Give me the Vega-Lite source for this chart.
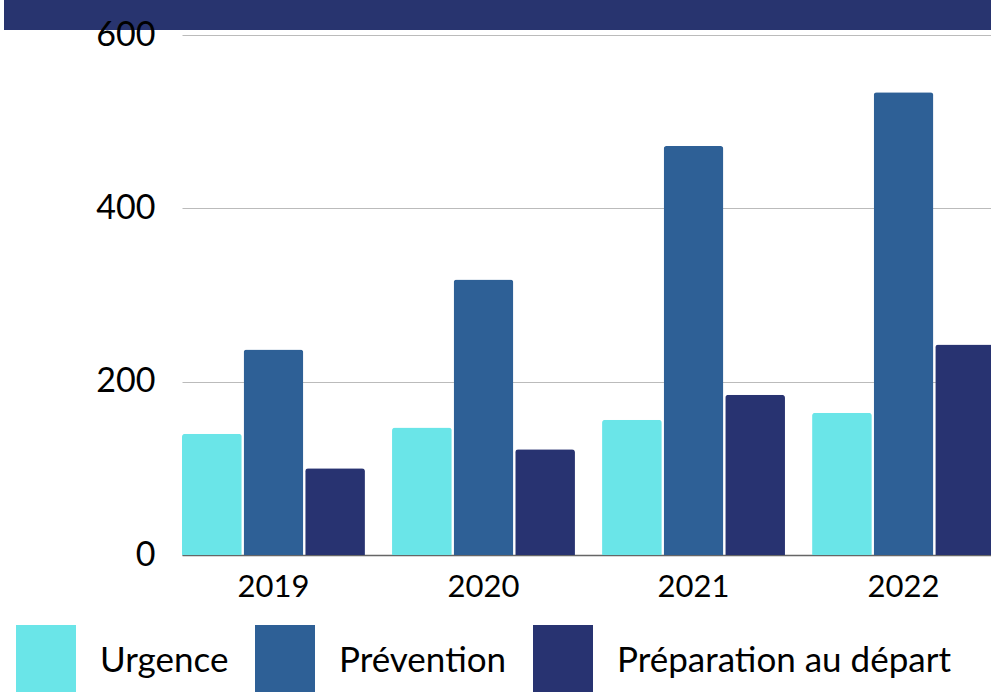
{
  "$schema": "https://vega.github.io/schema/vega-lite/v6.json",
  "width": 809,
  "height": 520,
  "autosize": {"type": "none"},
  "padding": {"left": 182, "top": 35, "right": 0, "bottom": 137},
  "background": "white",
  "config": {
    "font": "Lato",
    "view": {"stroke": null}
  },
  "data": {
    "values": [
      {"annee": "2019", "categorie": "Urgence", "valeur": 140},
      {"annee": "2019", "categorie": "Prévention", "valeur": 237},
      {"annee": "2019", "categorie": "Préparation au départ", "valeur": 100},
      {"annee": "2020", "categorie": "Urgence", "valeur": 147},
      {"annee": "2020", "categorie": "Prévention", "valeur": 318},
      {"annee": "2020", "categorie": "Préparation au départ", "valeur": 122},
      {"annee": "2021", "categorie": "Urgence", "valeur": 156},
      {"annee": "2021", "categorie": "Prévention", "valeur": 472},
      {"annee": "2021", "categorie": "Préparation au départ", "valeur": 185},
      {"annee": "2022", "categorie": "Urgence", "valeur": 164},
      {"annee": "2022", "categorie": "Prévention", "valeur": 534},
      {"annee": "2022", "categorie": "Préparation au départ", "valeur": 243}
    ]
  },
  "resolve": {
    "scale": {"x": "independent", "y": "shared"},
    "axis": {"x": "independent", "y": "independent"}
  },
  "layer": [
    {
      "mark": {"type": "bar", "cornerRadiusTopLeft": 3, "cornerRadiusTopRight": 3},
      "encoding": {
        "x": {
          "field": "annee",
          "type": "nominal",
          "scale": {"range": [0, 813], "paddingInner": 0.129, "paddingOuter": 0},
          "axis": {
            "title": null,
            "labelAngle": 0,
            "labelFontSize": 31,
            "labelColor": "#000000",
            "labelPadding": 17,
            "ticks": false,
            "domainColor": "#666666",
            "domainWidth": 1.5,
            "grid": false
          }
        },
        "xOffset": {
          "field": "categorie",
          "type": "nominal",
          "sort": ["Urgence", "Prévention", "Préparation au départ"],
          "scale": {"paddingInner": 0.03, "paddingOuter": 0}
        },
        "y": {
          "field": "valeur",
          "type": "quantitative",
          "scale": {"domain": [0, 600], "nice": false},
          "axis": {
            "orient": "left",
            "title": null,
            "values": [0, 200, 400, 600],
            "labels": false,
            "ticks": false,
            "domain": false,
            "grid": true,
            "gridColor": "#bbbbbb",
            "gridWidth": 1.2,
            "zindex": 0
          }
        },
        "color": {
          "field": "categorie",
          "type": "nominal",
          "scale": {
            "domain": ["Urgence", "Prévention", "Préparation au départ"],
            "range": ["#6ae5e8", "#2e6096", "#283371"]
          },
          "legend": {
            "title": null,
            "orient": "none",
            "direction": "horizontal",
            "columns": 3,
            "legendX": -166,
            "legendY": 596,
            "padding": 0,
            "symbolType": "M-1,-1.2H1V1.2H-1Z",
            "symbolSize": 3600,
            "symbolStrokeWidth": 0,
            "symbolOpacity": 1,
            "labelFontSize": 35,
            "labelColor": "#000000",
            "labelOffset": 24,
            "labelLimit": 500,
            "columnPadding": 26
          }
        }
      }
    },
    {
      "mark": {"type": "rect", "color": "#28346f"},
      "encoding": {
        "x": {
          "datum": -0.22,
          "type": "quantitative",
          "scale": {"domain": [0, 1], "nice": false, "zero": false},
          "axis": null
        },
        "x2": {"datum": 1},
        "y": {
          "datum": 606,
          "type": "quantitative",
          "axis": {
            "orient": "left",
            "title": null,
            "values": [0, 200, 400, 600],
            "labels": true,
            "labelFontSize": 34,
            "labelColor": "#000000",
            "labelPadding": 27,
            "ticks": false,
            "domain": false,
            "grid": false,
            "zindex": 1
          }
        },
        "y2": {"datum": 642}
      }
    }
  ]
}
